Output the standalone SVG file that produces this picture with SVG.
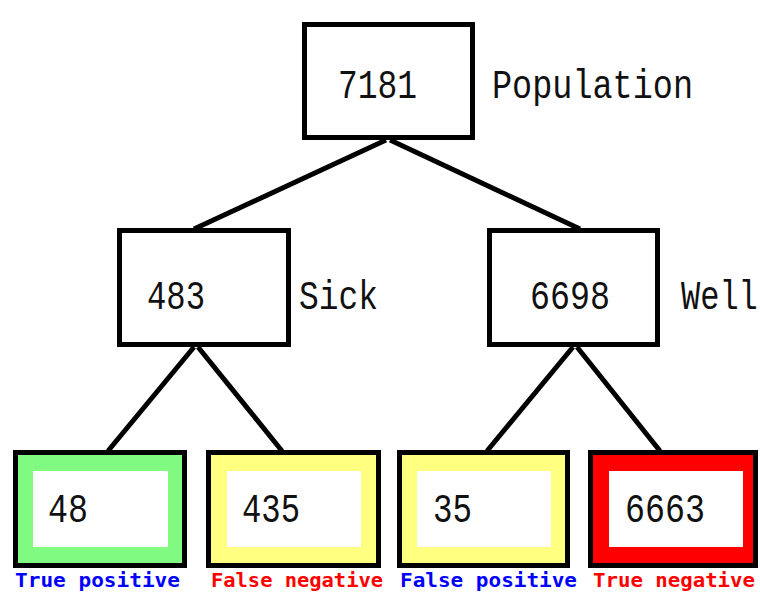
<svg xmlns="http://www.w3.org/2000/svg" width="760" height="596" viewBox="0 0 760 596">
<style>
.box{fill:#fff;stroke:#000;stroke-width:5}
.num{font-family:"Liberation Mono","DejaVu Sans Mono",monospace;font-size:40px;fill:#111}
.lbl{font-family:"DejaVu Sans Mono","Liberation Mono",monospace;font-size:19px;font-weight:bold}
.inner{fill:#fff}
.conn line{stroke:#000;stroke-width:5;stroke-linecap:butt}
</style>
<rect width="760" height="596" fill="#fff"/>
<g class="conn" id="connectors">
<line x1="386" y1="140" x2="194" y2="229"/>
<line x1="390" y1="140" x2="580" y2="229"/>
<line x1="194" y1="347" x2="108" y2="451"/>
<line x1="198" y1="347" x2="282" y2="451"/>
<line x1="573" y1="347" x2="487" y2="451"/>
<line x1="577" y1="347" x2="660" y2="451"/>
</g>
<g id="population">
<rect class="box" x="304.5" y="24.5" width="168" height="113"/>
<text class="num" x="338" y="98" textLength="79" lengthAdjust="spacingAndGlyphs">7181</text>
<text class="num" x="492" y="98" textLength="201" lengthAdjust="spacingAndGlyphs">Population</text>
</g>
<g id="sick">
<rect class="box" x="119.5" y="230.5" width="169" height="114"/>
<text class="num" x="147" y="309" textLength="58" lengthAdjust="spacingAndGlyphs">483</text>
<text class="num" x="299" y="309" textLength="79" lengthAdjust="spacingAndGlyphs">Sick</text>
</g>
<g id="well">
<rect class="box" x="489.5" y="230.5" width="168" height="114"/>
<text class="num" x="530" y="309" textLength="80" lengthAdjust="spacingAndGlyphs">6698</text>
<text class="num" transform="translate(681,309) scale(1,1.25)" x="0" y="0" style="font-size:32px">Well</text>
</g>
<g id="true-positive">
<rect class="box" x="15.5" y="452.5" width="169" height="113" style="fill:#80fa80"/>
<rect class="inner" x="33" y="471" width="135" height="76"/>
<text class="num" x="48" y="522" textLength="40" lengthAdjust="spacingAndGlyphs">48</text>
<text class="lbl" x="15" y="587" fill="#0000ff" textLength="165" lengthAdjust="spacingAndGlyphs">True positive</text>
</g>
<g id="false-negative">
<rect class="box" x="208.5" y="452.5" width="170" height="113" style="fill:#ffff80"/>
<rect class="inner" x="227" y="471" width="134" height="76"/>
<text class="num" x="242" y="522" textLength="58" lengthAdjust="spacingAndGlyphs">435</text>
<text class="lbl" x="211" y="587" fill="#ff0000" textLength="172" lengthAdjust="spacingAndGlyphs">False negative</text>
</g>
<g id="false-positive">
<rect class="box" x="399.5" y="452.5" width="168" height="113" style="fill:#ffff80"/>
<rect class="inner" x="417" y="471" width="134" height="76"/>
<text class="num" x="433" y="522" textLength="39" lengthAdjust="spacingAndGlyphs">35</text>
<text class="lbl" x="400" y="587" fill="#0000ff" textLength="177" lengthAdjust="spacingAndGlyphs">False positive</text>
</g>
<g id="true-negative">
<rect class="box" x="590.5" y="452.5" width="165" height="113" style="fill:#ff0000"/>
<rect class="inner" x="609" y="471" width="134" height="76"/>
<text class="num" x="625" y="522" textLength="80" lengthAdjust="spacingAndGlyphs">6663</text>
<text class="lbl" x="593" y="587" fill="#ff0000" textLength="162" lengthAdjust="spacingAndGlyphs">True negative</text>
</g>
</svg>
